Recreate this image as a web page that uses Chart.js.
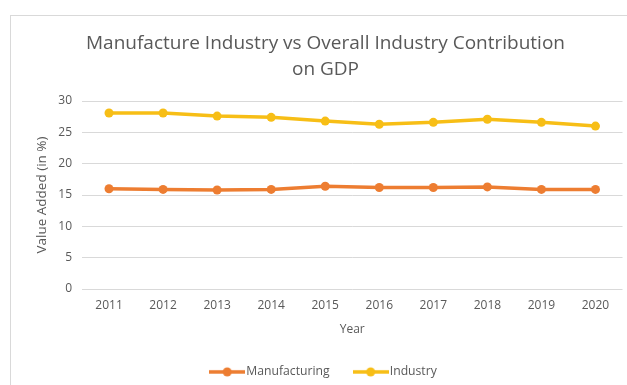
<!DOCTYPE html>
<html>
<head>
<meta charset="utf-8">
<script src="https://cdn.jsdelivr.net/npm/chart.js@4.4.1/dist/chart.umd.min.js"></script>
<style>
  html, body { margin: 0; padding: 0; background: #ffffff; }
  #wrap { position: relative; width: 627px; height: 385px; }
</style>
</head>
<body>
<div id="wrap"><canvas id="c" width="627" height="385"></canvas></div>
<script>
const years = ['2011','2012','2013','2014','2015','2016','2017','2018','2019','2020'];
const manufacturing = [16.0, 15.9, 15.8, 15.9, 16.4, 16.2, 16.2, 16.3, 15.9, 15.9];
const industry = [28.1, 28.1, 27.6, 27.4, 26.8, 26.3, 26.6, 27.1, 26.6, 26.0];
const titleLines = ['Manufacture Industry vs Overall Industry Contribution', 'on GDP'];
const yTitle = 'Value Added (in %)';
const xTitle = 'Year';

const ORANGE = '#ED7D31';
const YELLOW = '#F7BE16';
const TEXT = '#595959';
const FONT = "'Open Sans', 'Noto Sans', sans-serif";

function legendMarker(color) {
  const cv = document.createElement('canvas');
  cv.width = 36; cv.height = 12;
  const g = cv.getContext('2d');
  g.strokeStyle = color; g.lineWidth = 3.5;
  g.beginPath(); g.moveTo(0, 6); g.lineTo(36, 6); g.stroke();
  g.fillStyle = color;
  g.beginPath(); g.arc(18, 6, 4.5, 0, Math.PI * 2); g.fill();
  return cv;
}
const markers = [legendMarker(ORANGE), legendMarker(YELLOW)];

const borderPlugin = {
  id: 'outerBorder',
  beforeDraw(chart) {
    const ctx = chart.ctx;
    ctx.save();
    ctx.strokeStyle = '#d9d9d9';
    ctx.lineWidth = 1;
    ctx.strokeRect(10.5, 15.5, 640, 400);
    ctx.restore();
  },
  afterLayout(chart) {
    // the original chart frame extends past the right edge; centre title/legend in that frame
    const shift = 13;
    if (chart.titleBlock) { chart.titleBlock.left += shift; chart.titleBlock.right += shift; }
    if (chart.legend) { chart.legend.left += shift; chart.legend.right += shift; }
  }
};

new Chart(document.getElementById('c'), {
  type: 'line',
  data: {
    labels: years,
    datasets: [
      { label: 'Manufacturing', data: manufacturing, borderColor: ORANGE, backgroundColor: ORANGE,
        borderWidth: 3.5, pointRadius: 4.5, pointHoverRadius: 4.5, pointBackgroundColor: ORANGE, pointBorderWidth: 0, tension: 0 },
      { label: 'Industry', data: industry, borderColor: YELLOW, backgroundColor: YELLOW,
        borderWidth: 3.5, pointRadius: 4.5, pointHoverRadius: 4.5, pointBackgroundColor: YELLOW, pointBorderWidth: 0, tension: 0 }
    ]
  },
  options: {
    responsive: false,
    animation: false,
    layout: { padding: { left: 0, right: 2, top: 0, bottom: -3 } },
    plugins: {
      title: {
        display: true,
        text: titleLines,
        color: TEXT,
        font: { family: FONT, size: 19, weight: 'normal', lineHeight: 1.37 },
        padding: { top: 31, bottom: 18 }
      },
      legend: {
        display: true,
        position: 'bottom',
        labels: {
          color: TEXT,
          font: { family: FONT, size: 12.2 },
          usePointStyle: true,
          pointStyleWidth: 26,
          padding: 28,
          generateLabels(chart) {
            const items = Chart.defaults.plugins.legend.labels.generateLabels(chart);
            items.forEach((it, i) => { it.pointStyle = markers[i]; });
            return items;
          }
        }
      },
      tooltip: { enabled: false }
    },
    scales: {
      x: {
        offset: true,
        grid: { display: false, drawTicks: false },
        border: { display: false },
        ticks: { color: TEXT, font: { family: FONT, size: 12 }, padding: 9 },
        title: { display: true, text: xTitle, color: TEXT, font: { family: FONT, size: 12 }, padding: { top: 1, bottom: 1 } }
      },
      y: {
        min: 0, max: 30,
        ticks: { stepSize: 5, color: TEXT, font: { family: FONT, size: 12 }, padding: 10 },
        grid: { color: '#d9d9d9', lineWidth: 1, drawTicks: false },
        border: { display: false },
        title: { display: true, text: yTitle, color: TEXT, font: { family: FONT, size: 13.5 }, padding: { top: 34, bottom: 0 } },
        afterFit(scale) { scale.width = 82; }
      }
    }
  },
  plugins: [borderPlugin]
});
</script>
</body>
</html>
